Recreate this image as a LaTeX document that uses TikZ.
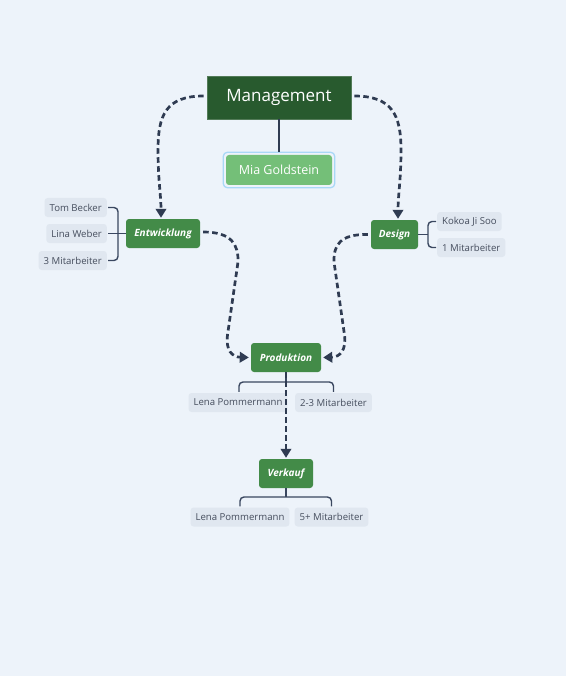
\documentclass[tikz,border=0pt]{standalone}
\usepackage{fontspec}
\setmainfont{Open Sans}
\usetikzlibrary{arrows.meta,calc}
\definecolor{bg}{HTML}{EDF3FA}
\definecolor{mgmt}{HTML}{285A2E}
\definecolor{midg}{HTML}{438B48}
\definecolor{lightg}{HTML}{74BF78}
\definecolor{outl}{HTML}{A9D8F7}
\definecolor{leaff}{HTML}{E0E7F0}
\definecolor{leaft}{HTML}{454D5D}
\definecolor{linec}{HTML}{2F3B52}
\definecolor{brc}{HTML}{3A4760}
\tikzset{
  mgmtbox/.style={fill=mgmt, draw=mgmt!80!white, line width=0.6pt, text=white, minimum width=144pt, minimum height=43pt, inner sep=0pt, font=\fontsize{17}{20}\selectfont},
  miabox/.style={fill=lightg, text=white, rounded corners=3pt, minimum width=106pt, minimum height=30pt, inner sep=0pt, font=\fontsize{12.5}{15}\selectfont},
  deptbox/.style={fill=midg, text=white, rounded corners=3pt, minimum height=29pt, inner sep=0pt, font=\fontsize{10}{12}\selectfont\bfseries\itshape},
  leaf/.style={fill=leaff, text=leaft, rounded corners=3pt, minimum height=19pt, inner xsep=5pt, inner ysep=0pt, font=\fontsize{9.6}{11}\selectfont},
  dasharrow/.style={draw=linec, line width=2.7pt, dash pattern=on 5.5pt off 3.5pt, -{Triangle[length=9pt,width=10.5pt]}},
  brk/.style={draw=brc, line width=1.4pt, rounded corners=4pt},
}
\begin{document}
\begin{tikzpicture}[x=1pt,y=-1pt]
\fill[bg] (0,0) rectangle (566,676);
\useasboundingbox (0,0) rectangle (566,676);

\node[mgmtbox] (mgmt) at (279,97.5) {Management};
\node[miabox] (mia) at (279,170) {Mia Goldstein};
\draw[outl, line width=1.3pt, rounded corners=4pt] ([shift={(-2.5pt,-2.5pt)}]mia.south west) rectangle ([shift={(2.5pt,2.5pt)}]mia.north east);
\draw[linec, line width=1.6pt] (mgmt.south) -- ([yshift=2.5pt]mia.north);

\node[deptbox, minimum width=74pt] (ent) at (163,233.5) {Entwicklung};
\node[deptbox, minimum width=47pt] (ds) at (394.5,234.5) {Design};
\node[deptbox, minimum width=70pt] (prod) at (286,357.5) {Produktion};
\node[deptbox, minimum width=54pt] (vk) at (286,473.5) {Verkauf};

% leaves
\node[leaf, anchor=east] (tom) at (107,207.5) {Tom Becker};
\node[leaf, anchor=east] (lina) at (107,233.5) {Lina Weber};
\node[leaf, anchor=east] (m3) at (107,260.5) {3 Mitarbeiter};
\node[leaf, anchor=west] (kokoa) at (437,221.5) {Kokoa Ji Soo};
\node[leaf, anchor=west] (m1) at (437,247.5) {1 Mitarbeiter};
\node[leaf] (lena1) at (238,402.5) {Lena Pommermann};
\node[leaf] (m23) at (333.5,402.5) {2-3 Mitarbeiter};
\node[leaf] (lena2) at (240,517) {Lena Pommermann};
\node[leaf] (m5) at (331.5,517) {5+ Mitarbeiter};

% brackets
\draw[brk] ([xshift=1pt]tom.east) -| (118,233.5) |- ([xshift=1pt]m3.east);
\draw[brk] ([xshift=1pt]lina.east) -- (ent.west);
\draw[brk] ([xshift=-1pt]kokoa.west) -| (428,234.5) |- ([xshift=-1pt]m1.west);
\draw[brk] (ds.east) -- (428,234.5);
\draw[brk] ([xshift=1pt,yshift=1pt]lena1.north) |- (286,382) -| ([yshift=1pt]m23.north);
\draw[brk] (prod.south) -- (286,382);
\draw[brk] ([yshift=1pt]lena2.north) |- (286,497) -| ([yshift=1pt]m5.north);
\draw[brk] (vk.south) -- (286,497);

% dashed arrows
\draw[dasharrow] ([xshift=-3pt,yshift=1.5pt]mgmt.west) .. controls (166,96) and (158,115) .. (158,150) .. controls (158,180) and (161,195) .. ([xshift=-2pt,yshift=1pt]ent.north);
\draw[dasharrow] ([xshift=3pt,yshift=1.5pt]mgmt.east) .. controls (392,96) and (401,115) .. (401,150) .. controls (401,180) and (398,195) .. ([xshift=3.5pt,yshift=1pt]ds.north);
\draw[dasharrow] ([xshift=3pt,yshift=1.5pt]ent.east) .. controls (232,232) and (238.5,245) .. (238,262) -- (227.5,335) .. controls (225.5,350) and (232,357) .. ([xshift=-2pt]prod.west);
\draw[dasharrow] ([xshift=-3pt]ds.west) .. controls (340,234) and (333.5,245) .. (334,262) -- (344.5,335) .. controls (346.5,350) and (340,357) .. ([xshift=2pt]prod.east);
\draw[dasharrow] (prod.south) -- ([yshift=1pt]vk.north);
\end{tikzpicture}
\end{document}
